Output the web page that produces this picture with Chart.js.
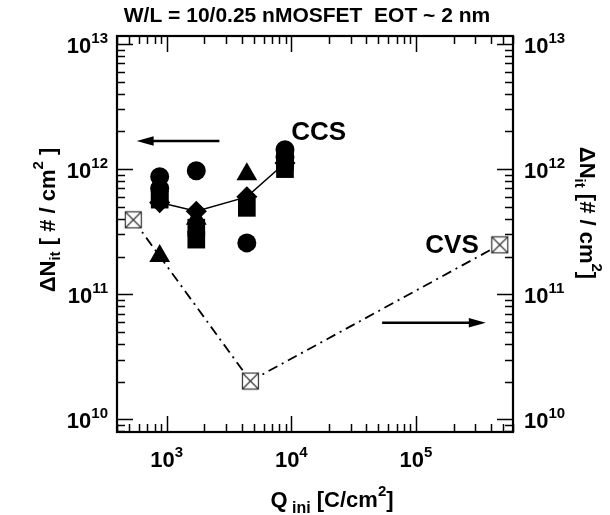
<!DOCTYPE html>
<html><head><meta charset="utf-8">
<style>html,body{margin:0;padding:0;background:#fff}</style>
<script src="https://cdn.jsdelivr.net/npm/chart.js@4.4.1/dist/chart.umd.min.js"></script>
</head><body>
<canvas id="c" width="610" height="515"></canvas>
<script>
// ---------- data ----------
const titleText = 'W/L = 10/0.25 nMOSFET  EOT ~ 2 nm';
const xRange = [400, 6e5];
const yRange = [7.9e9, 1.16e13];
const xTickExps = [3, 4, 5];
const yTickExps = [10, 11, 12, 13];

const circleQ = [880, 880, 1730, 4400, 8900, 8900];
const circleN = [8.7e11, 7.0e11, 9.7e11, 2.57e11, 1.43e12, 1.25e12];
const squareQ = [880, 880, 1730, 1730, 4400, 8900, 8900];
const squareN = [6.1e11, 5.7e11, 3.4e11, 2.73e11, 4.9e11, 1.15e12, 1.0e12];
const diamondQ = [880, 1730, 4400, 8900];
const diamondN = [5.4e11, 4.6e11, 6.0e11, 1.12e12];
const triangleQ = [880, 1730, 4400];
const triangleN = [2.02e11, 4.0e11, 9.1e11];
const cvsQ = [540, 4700, 4.7e5];
const cvsN = [3.93e11, 2.02e10, 2.48e11];

// annotations (data coordinates)
const arrowLeft = {from: [2650, 1.68e12], to: [575, 1.68e12]};
const arrowRight = {from: [5.35e4, 5.9e10], to: [3.63e5, 5.9e10]};
const labelCCS = {text: 'CCS', at: [1.0e4, 1.72e12], align: 'left'};
const labelCVS = {text: 'CVS', at: [3.19e5, 2.14e11], align: 'right'};

// ---------- helpers ----------
const FONT = '"Liberation Sans", Arial, Helvetica, sans-serif';
const pts = (xs, ys) => xs.map((x, i) => ({x, y: ys[i]}));

function crossBox() {
  const s = 19, c = document.createElement('canvas');
  c.width = s; c.height = s;
  const g = c.getContext('2d');
  g.fillStyle = '#fff'; g.fillRect(1, 1, s - 2, s - 2);
  g.strokeStyle = '#333'; g.lineWidth = 1.2;
  g.strokeRect(1.5, 1.5, s - 3, s - 3);
  g.beginPath(); g.moveTo(2, 2); g.lineTo(s - 2, s - 2);
  g.moveTo(s - 2, 2); g.lineTo(2, s - 2); g.stroke();
  return c;
}

function runsWidth(ctx, runs) {
  let w = 0;
  for (const r of runs) { ctx.font = `bold ${r.size}px ${FONT}`; w += ctx.measureText(r.t).width; }
  return w;
}
function drawRuns(ctx, runs, x, y, align, angle) {
  ctx.save();
  ctx.translate(x, y); ctx.rotate(angle || 0);
  const w = runsWidth(ctx, runs);
  let cx = align === 'center' ? -w / 2 : align === 'right' ? -w : 0;
  ctx.textBaseline = 'alphabetic'; ctx.textAlign = 'left'; ctx.fillStyle = '#000';
  for (const r of runs) {
    ctx.font = `bold ${r.size}px ${FONT}`;
    ctx.fillText(r.t, cx, r.dy || 0);
    cx += ctx.measureText(r.t).width;
  }
  ctx.restore();
}
function pow10Runs(e, big, small, rise) {
  return [{t: '10', size: big}, {t: String(e), size: small, dy: -rise}];
}
function drawArrow(ctx, x1, y1, x2, y2) {
  const ang = Math.atan2(y2 - y1, x2 - x1), L = 17, H = 4.8;
  ctx.save();
  ctx.strokeStyle = '#000'; ctx.fillStyle = '#000'; ctx.lineWidth = 2.4;
  ctx.beginPath(); ctx.moveTo(x1, y1);
  ctx.lineTo(x2 - Math.cos(ang) * (L - 2), y2 - Math.sin(ang) * (L - 2)); ctx.stroke();
  ctx.translate(x2, y2); ctx.rotate(ang);
  ctx.beginPath(); ctx.moveTo(0, 0); ctx.lineTo(-L, -H); ctx.lineTo(-L, H); ctx.closePath(); ctx.fill();
  ctx.restore();
}

const framePlugin = {
  id: 'frame',
  afterDraw(chart) {
    const {ctx, chartArea: a, scales: {x, y}} = chart;
    ctx.save();
    ctx.strokeStyle = '#000'; ctx.lineWidth = 1.5;
    ctx.beginPath();
    for (let k = 2; k <= 5; k++) for (let m = 1; m <= 9; m++) {
      const v = m * Math.pow(10, k);
      if (v < xRange[0] || v > xRange[1]) continue;
      const p = Math.round(x.getPixelForValue(v)) + 0.5, len = m === 1 ? 16 : 8;
      ctx.moveTo(p, a.bottom); ctx.lineTo(p, a.bottom - len);
      ctx.moveTo(p, a.top); ctx.lineTo(p, a.top + len);
    }
    for (let k = 9; k <= 13; k++) for (let m = 1; m <= 9; m++) {
      const v = m * Math.pow(10, k);
      if (v < yRange[0] || v > yRange[1]) continue;
      const p = Math.round(y.getPixelForValue(v)) + 0.5, len = m === 1 ? 16 : 8;
      ctx.moveTo(a.left, p); ctx.lineTo(a.left + len, p);
      ctx.moveTo(a.right, p); ctx.lineTo(a.right - len, p);
    }
    ctx.stroke();
    ctx.lineWidth = 2.2;
    ctx.strokeRect(a.left, a.top, a.right - a.left, a.bottom - a.top);
    ctx.restore();

    // tick labels
    for (const e of xTickExps) {
      drawRuns(ctx, pow10Runs(e, 22, 15, 10), x.getPixelForValue(Math.pow(10, e)), 467, 'center');
    }
    for (const e of yTickExps) {
      const p = y.getPixelForValue(Math.pow(10, e));
      drawRuns(ctx, pow10Runs(e, 22, 15, 10), a.left - 9, p + 9, 'right');
      drawRuns(ctx, pow10Runs(e, 22, 15, 10), a.right + 11, p + 9, 'left');
    }

    // title
    drawRuns(ctx, [{t: titleText, size: 21}], 307, 22, 'center');

    // axis titles
    drawRuns(ctx, [{t: 'Q', size: 22}, {t: ' ini', size: 16, dy: 6}, {t: ' [C/cm', size: 22},
      {t: '2', size: 15, dy: -11}, {t: ']', size: 22}], 332, 507, 'center');
    drawRuns(ctx, [{t: '\u0394N', size: 22}, {t: 'it', size: 15, dy: 5}, {t: ' [ # / cm', size: 22},
      {t: '2', size: 15, dy: -12}, {t: ' ]', size: 22}], 55, 220, 'center', -Math.PI / 2);
    drawRuns(ctx, [{t: '\u0394N', size: 22}, {t: 'it', size: 15, dy: 5}, {t: ' [# / cm', size: 22},
      {t: '2', size: 15, dy: -12}, {t: ']', size: 22}], 580, 213, 'center', Math.PI / 2);

    // labels & arrows
    for (const L of [labelCCS, labelCVS]) {
      drawRuns(ctx, [{t: L.text, size: 26}], x.getPixelForValue(L.at[0]), y.getPixelForValue(L.at[1]), L.align);
    }
    for (const A of [arrowLeft, arrowRight]) {
      drawArrow(ctx, x.getPixelForValue(A.from[0]), y.getPixelForValue(A.from[1]),
        x.getPixelForValue(A.to[0]), y.getPixelForValue(A.to[1]));
    }
  }
};

const box = crossBox();
new Chart(document.getElementById('c'), {
  type: 'scatter',
  data: {
    datasets: [
      {label: 'circle', data: pts(circleQ, circleN), pointStyle: 'circle', pointRadius: 9.5,
        backgroundColor: '#000', borderColor: '#000', borderWidth: 0, showLine: false},
      {label: 'square', data: pts(squareQ, squareN), pointStyle: 'rect', pointRadius: 12.5,
        backgroundColor: '#000', borderColor: '#000', borderWidth: 0, showLine: false},
      {label: 'diamond', data: pts(diamondQ, diamondN), pointStyle: 'rectRot', pointRadius: 9.5,
        backgroundColor: '#000', borderColor: '#000', borderWidth: 1.5, showLine: true},
      {label: 'triangle', data: pts(triangleQ, triangleN), pointStyle: 'triangle', pointRadius: 12,
        backgroundColor: '#000', borderColor: '#000', borderWidth: 0, showLine: false},
      {label: 'CVS', data: pts(cvsQ, cvsN), pointStyle: box, pointRadius: 9,
        borderColor: '#000', borderWidth: 1.8, borderDash: [10, 5, 2, 5], showLine: true}
    ]
  },
  options: {
    responsive: false, animation: false, devicePixelRatio: 1,
    layout: {padding: {left: 117, right: 97, top: 36, bottom: 83}},
    plugins: {legend: {display: false}, tooltip: {enabled: false}},
    elements: {line: {tension: 0}},
    scales: {
      x: {type: 'logarithmic', min: xRange[0], max: xRange[1], display: false},
      y: {type: 'logarithmic', min: yRange[0], max: yRange[1], display: false}
    }
  },
  plugins: [framePlugin]
});
</script>
</body></html>
